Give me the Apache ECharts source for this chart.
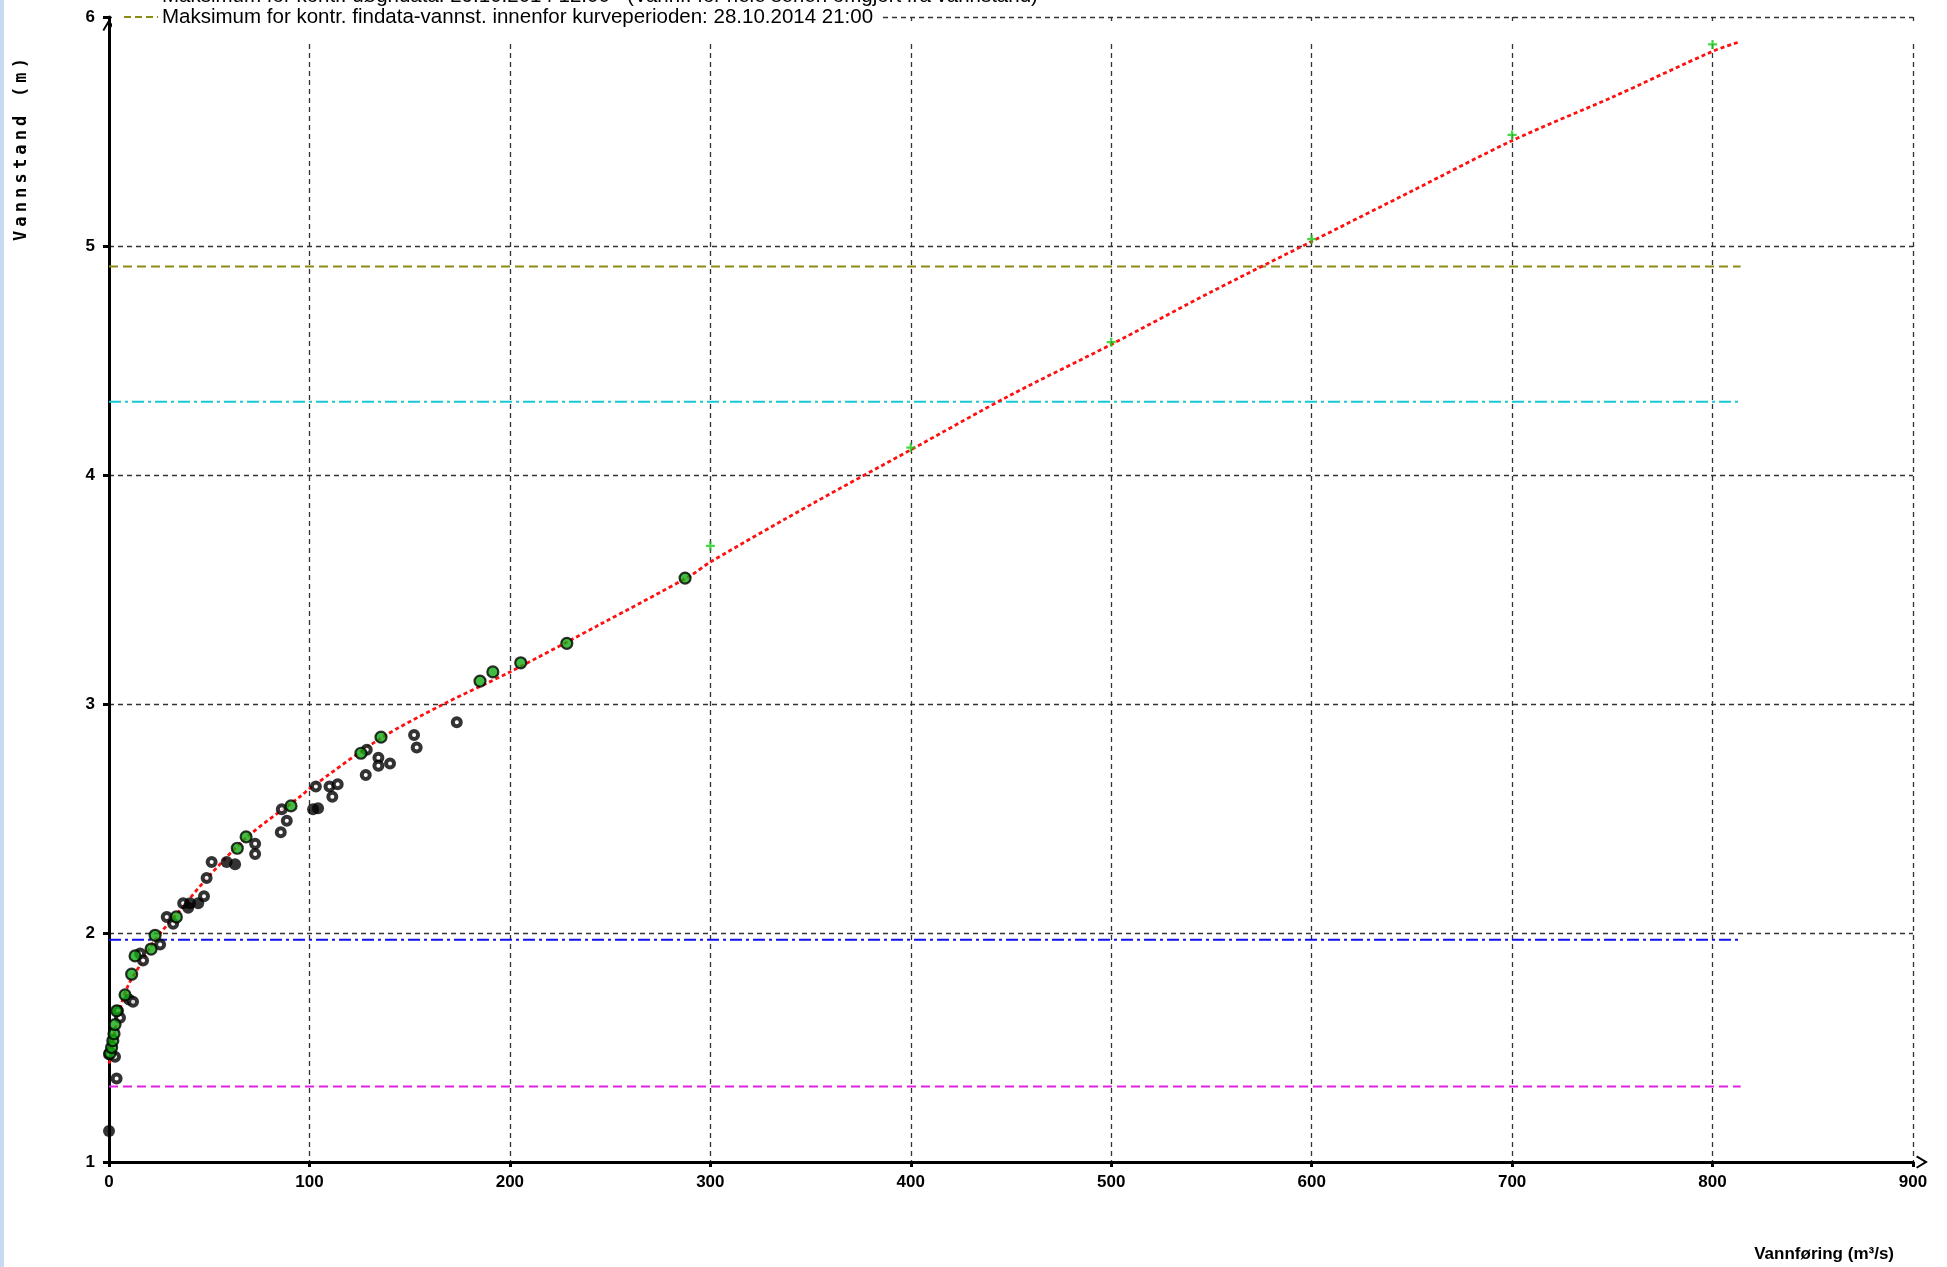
<!DOCTYPE html>
<html><head><meta charset="utf-8">
<script src="https://cdn.jsdelivr.net/npm/echarts@6/dist/echarts.min.js"></script>
<style>html,body{margin:0;padding:0;background:#fff}#c{width:1947px;height:1267px}</style>
</head><body><div id="c"></div>
<script>
// Rating curve (red dotted)
const curveQ = [0, 1, 2, 5.5, 9.5, 15.5, 23, 35.5, 49, 69, 96, 100, 135.5, 167, 200, 245.5, 290, 300, 352, 400, 450, 500, 550, 600, 650, 700, 750, 800, 813];
const curveH = [1.43, 1.46, 1.53, 1.67, 1.77, 1.86, 1.97, 2.10, 2.24, 2.42, 2.60, 2.63, 2.85, 3.00, 3.14, 3.35, 3.56, 3.62, 3.88, 4.11, 4.35, 4.57, 4.80, 5.02, 5.24, 5.46, 5.65, 5.85, 5.89];
// Measurements used in the curve (green filled)
const usedQ = [0.5, 1.3, 1.9, 2.5, 3, 3.8, 8, 11.3, 13, 21, 23, 33.6, 64, 68.4, 90.8, 125.7, 135.7, 185.1, 191.5, 205.4, 228.4, 287.4];
const usedH = [1.475, 1.50, 1.53, 1.56, 1.60, 1.66, 1.73, 1.82, 1.90, 1.93, 1.99, 2.07, 2.37, 2.42, 2.555, 2.785, 2.855, 3.10, 3.14, 3.18, 3.265, 3.55];
// Other measurements (black open circles)
const openQ = [3.8, 0, 3, 4.5, 5.5, 10, 12, 15.5, 17, 25.5, 28.8, 32, 37, 47.4, 48.7, 51.2, 72.9, 72.9, 85.7, 86.2, 88.7, 103.2, 110, 114.1, 111.4, 128.1, 128.6, 134.4, 134.4, 140.2, 152.2, 153.5, 173.5];
const openH = [1.365, 1.47, 1.46, 1.66, 1.63, 1.71, 1.70, 1.91, 1.88, 1.95, 2.07, 2.04, 2.13, 2.16, 2.24, 2.31, 2.39, 2.345, 2.44, 2.54, 2.49, 2.64, 2.64, 2.65, 2.595, 2.69, 2.80, 2.765, 2.73, 2.74, 2.865, 2.81, 2.92];
// Overlapping measurements (black filled)
const solidQ = [0, 39.5, 40.4, 44.5, 58.7, 62.9, 101.8, 104.3];
const solidH = [1.135, 2.11, 2.13, 2.13, 2.31, 2.30, 2.54, 2.545];
// Extrapolated curve points (green plus)
const extrapQ = [300, 400, 500, 600, 700, 800];
const extrapH = [3.69, 4.12, 4.58, 5.03, 5.485, 5.88];
// Reference levels (horizontal lines)
const refLevels = [4.91, 4.32, 1.97, 1.33];
const refColors = ['#8c8c14', '#18c8d4', '#1010ee', '#e020e0'];
const refDash = [[9, 5], [12, 4, 3, 4], [12, 4, 3, 4], [9, 5]];
const refStartQ = 0, refEndQ = 814;
// Axis ticks
const xMin = 0, xMax = 900, xStep = 100;
const yMin = 1, yMax = 6, yStep = 1;
const legendTop = 'Maksimum for kontr. døgndata: 29.10.2014 12:00   (Vannf. for hele serien omgjort fra vannstand)';
const legendText = 'Maksimum for kontr. findata-vannst. innenfor kurveperioden: 28.10.2014 21:00';
const xName = 'Vannføring (m³/s)';
const yName = 'Vannstand (m)';

const zip = (a, b) => a.map((v, i) => [v, b[i]]);
const FONT = "'Liberation Sans Narrow', 'Liberation Sans', Arial, sans-serif";

const refSeries = refLevels.map((lv, i) => ({
  type: 'line', data: [[refStartQ, lv], [refEndQ, lv]], showSymbol: false, silent: true, z: 3,
  lineStyle: { color: refColors[i], width: 2, type: refDash[i] }
}));

// y-axis title letters, spaced like the original
const yNameLetters = yName.split('').map((ch, i) => ({
  type: 'text', z: 2, silent: true, x: 22, y: 236 - i * 14.4, rotation: Math.PI / 2,
  style: { text: ch, fill: '#000', font: 'bold 17px "DejaVu Sans Mono", monospace', textAlign: 'center', textVerticalAlign: 'middle' }
}));

const chevron = 'path://M0,10 L6,0 L12,10 L10.5,11 L6,3.5 L1.5,11 Z';

const chart = echarts.init(document.getElementById('c'), null, { renderer: 'canvas' });
chart.setOption({
  animation: false,
  backgroundColor: '#fff',
  grid: { left: 109, right: 34, top: 17, bottom: 105, containLabel: false },
  xAxis: {
    type: 'value', min: xMin, max: xMax, interval: xStep,
    axisLine: { onZero: false, lineStyle: { color: '#000', width: 3 }, symbol: ['none', chevron], symbolSize: [13, 12], symbolOffset: [0, 9] },
    axisTick: { show: true, length: 5, inside: false, lineStyle: { color: '#000', width: 3 } },
    axisLabel: { color: '#000', fontFamily: FONT, fontSize: 17, fontWeight: 'bold', margin: 12 },
    splitLine: { show: true, lineStyle: { color: '#333', width: 1.3, type: [5, 4] } }
  },
  yAxis: {
    type: 'value', min: yMin, max: yMax, interval: yStep,
    axisLine: { onZero: false, lineStyle: { color: '#000', width: 3 }, symbol: ['none', chevron], symbolSize: [13, 12], symbolOffset: [0, -8] },
    axisTick: { show: true, length: 6, lineStyle: { color: '#000', width: 3 } },
    axisLabel: { color: '#000', fontFamily: FONT, fontSize: 17, fontWeight: 'bold', margin: 14 },
    splitLine: { show: true, lineStyle: { color: '#333', width: 1.3, type: [5, 4] } }
  },
  graphic: [
    { type: 'rect', z: 1, silent: true, shape: { x: 112, y: 21, width: 1835, height: 20 }, style: { fill: '#fff' } },
    { type: 'rect', z: 1, silent: true, shape: { x: 112, y: 0, width: 768, height: 21 }, style: { fill: '#fff' } },
    { type: 'line', z: 2, silent: true, shape: { x1: 124, y1: 17, x2: 158, y2: 17 }, style: { stroke: '#8c8c14', lineWidth: 2, lineDash: [7, 4] } },
    { type: 'text', z: 2, silent: true, x: 162, y: 17, style: { text: legendText, fill: '#000', font: '20.5px ' + FONT, textVerticalAlign: 'middle' } },
    { type: 'text', z: 2, silent: true, x: 162, y: -4, style: { text: legendTop, fill: '#000', font: '20.5px ' + FONT, textVerticalAlign: 'middle' } },
    { type: 'text', z: 2, silent: true, x: 1894, y: 1263, style: { text: xName, fill: '#000', font: 'bold 17px ' + FONT, textAlign: 'right', textVerticalAlign: 'bottom' } },
    ...yNameLetters,
    { type: 'rect', z: 2, silent: true, shape: { x: 0, y: 0, width: 4, height: 1267 }, style: { fill: '#c9d9f2' } }
  ],
  series: [
    ...refSeries,
    { type: 'line', data: zip(curveQ, curveH), showSymbol: false, smooth: 0.3, z: 4, silent: true,
      lineStyle: { color: '#ff1010', width: 2.8, type: [4, 3] } },
    { type: 'scatter', data: zip(openQ, openH), symbol: 'circle', symbolSize: 8, z: 5,
      itemStyle: { color: '#fff', borderColor: '#000', borderWidth: 4 } },
    { type: 'scatter', data: zip(solidQ, solidH), symbol: 'circle', symbolSize: 12, z: 5,
      itemStyle: { color: '#000' } },
    { type: 'scatter', data: zip(usedQ, usedH), symbol: 'circle', symbolSize: 11, z: 6,
      itemStyle: { color: '#12aa12', borderColor: '#000', borderWidth: 2.2 } },
    { type: 'scatter', data: zip(extrapQ, extrapH), symbol: 'path://M3,0H5V3H8V5H5V8H3V5H0V3H3Z', symbolSize: 9, z: 6,
      itemStyle: { color: '#1ccc1c' } }
  ]
});
</script></body></html>
